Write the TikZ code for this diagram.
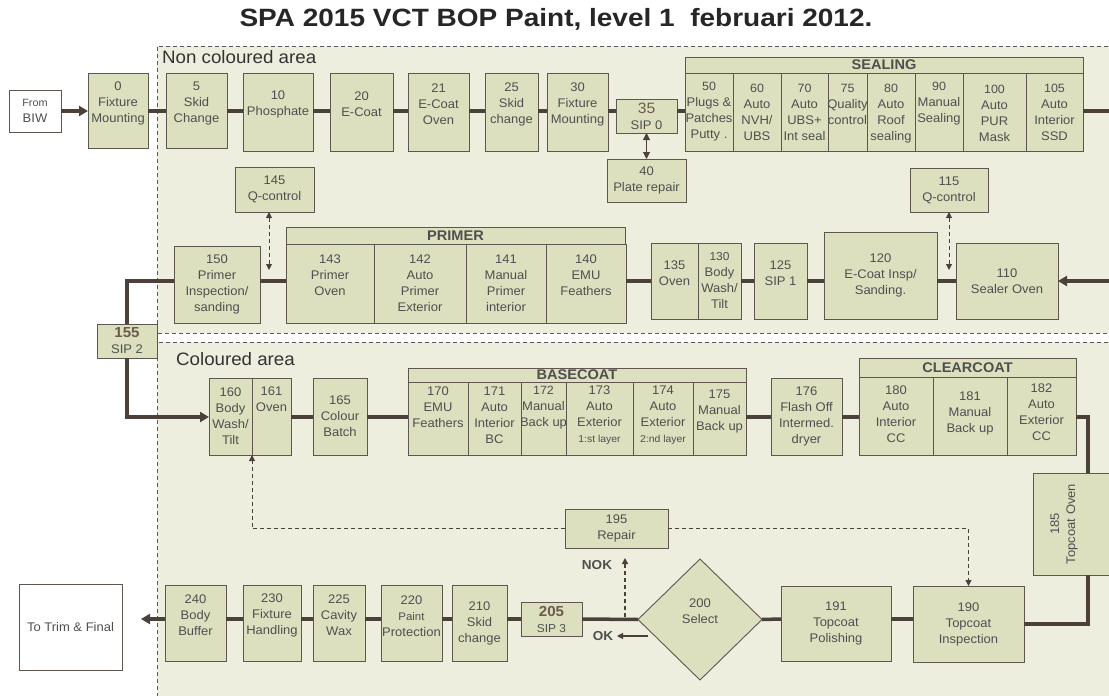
\documentclass[tikz,border=0pt]{standalone}
\usepackage{fontspec}
\setmainfont{Liberation Sans}[FakeStretch=1.04]
\newfontfamily\titlefont{Liberation Sans}[FakeStretch=1.12]
\usetikzlibrary{arrows.meta,shapes.geometric}
\definecolor{areacol}{HTML}{EEEEDF}
\definecolor{boxfill}{HTML}{DDE0BF}
\definecolor{boxline}{HTML}{5E564F}
\definecolor{conncol}{HTML}{4B403A}
\definecolor{txtcol}{HTML}{4F4F4F}
\definecolor{sipcol}{HTML}{6B5B4F}
\tikzset{
  box/.style={draw=boxline, fill=boxfill, line width=0.9pt, inner sep=0pt, outer sep=0pt},
  lbl/.style={align=center, text=txtcol, inner sep=0pt, font=\fontsize{12.5}{16}\selectfont},
  hdr/.style={font=\bfseries\fontsize{14}{16}\selectfont, text=txtcol},
  conn/.style={draw=conncol, line width=3.5pt},
  arr/.style={-{Triangle[length=9pt,width=10pt]}},
  qdash/.style={draw=conncol, line width=1pt, dash pattern=on 4pt off 3pt},
  qtip/.style={-{Triangle[length=6pt,width=6pt]}},
  qtips/.style={{Triangle[length=6pt,width=6pt]}-{Triangle[length=6pt,width=6pt]}},
  areadash/.style={draw=black!65, line width=0.8pt, dash pattern=on 4pt off 3pt},
}
\newcommand\sealf{\fontsize{12}{15}\selectfont}
\newcommand\sipnum[1]{{\bfseries\fontsize{14.5}{15}\selectfont\color{sipcol}#1}}
% \bx[box opts]{name}{x1}{y1}{x2}{y2}{text dy}{text}
\newcommand\bx[8][]{%
  \pgfmathsetmacro\Bxw{#5-#3}\pgfmathsetmacro\Bxh{#6-#4}%
  \pgfmathsetmacro\Bxcx{(#3+#5)/2}\pgfmathsetmacro\Bxcy{(#4+#6)/2}%
  \node[box,#1,minimum width=\Bxw pt,minimum height=\Bxh pt] (#2) at (\Bxcx,\Bxcy) {};%
  \node[lbl] at (\Bxcx,{\Bxcy+(#7)}) {#8};}
\newcommand\hd[6]{%
  \pgfmathsetmacro\Bxw{#4-#2}\pgfmathsetmacro\Bxh{#5-#3}%
  \pgfmathsetmacro\Bxcx{(#2+#4)/2}\pgfmathsetmacro\Bxcy{(#3+#5)/2}%
  \node[box,hdr,minimum width=\Bxw pt,minimum height=\Bxh pt] (#1) at (\Bxcx,\Bxcy) {#6};}
\begin{document}
\begin{tikzpicture}[x=1pt,y=-1pt]
\useasboundingbox (0,0) rectangle (1109,696);
\clip (0,0) rectangle (1109,696);
\fill[white] (0,0) rectangle (1109,696);
% areas
\fill[areacol] (157,46) rectangle (1115,333);
\fill[areacol] (157,342) rectangle (1115,700);
\draw[areadash] (1115,46) -- (157,46) -- (157,333) -- (1115,333);
\draw[areadash] (1115,342) -- (157,342) -- (157,700);
\node[font=\titlefont\bfseries\fontsize{25}{28}\selectfont, text=black!85] (title) at (556,19) {SPA 2015 VCT BOP Paint, level 1\ \ februari 2012.};
\node[anchor=west, font=\fontsize{18}{20}\selectfont, text=black!80, inner sep=0pt] (ncarea) at (162,57) {Non coloured area};
\node[anchor=west, font=\fontsize{18}{20}\selectfont, text=black!80, inner sep=0pt] (carea) at (176,359) {Coloured area};
% guide coordinates
\coordinate (r1) at (0,111);
\coordinate (r2) at (0,281);
\coordinate (r3) at (0,417);
\coordinate (r4) at (0,619);
\coordinate (e1) at (1112,111);
\coordinate (e2) at (1112,281);
\coordinate (q1) at (0,270);
\coordinate (qx1) at (269,0);
\coordinate (v185) at (1088,0);
% row 1
\bx[fill=white]{biw}{9}{90}{61}{132}{0}{\fontsize{10.5}{14}\selectfont From\\BIW}
\bx{b0}{88}{73}{148}{148}{-7}{0\\Fixture\\Mounting}
\bx{b5}{166}{73}{227}{148}{-7}{5\\Skid\\Change}
\bx{b10}{243}{73}{313}{151}{-8}{10\\Phosphate}
\bx{b20}{330}{73}{393}{151}{-8}{20\\E-Coat}
\bx{b21}{408}{73}{469}{151}{-8}{21\\E-Coat\\Oven}
\bx{b25}{485}{73}{538}{151}{-8}{25\\Skid\\change}
\bx{b30}{547}{73}{608}{151}{-8}{30\\Fixture\\Mounting}
\bx{b35}{616}{99}{677}{133}{0}{{\fontsize{15}{16}\selectfont\color{sipcol}35}\\SIP 0}
\bx{b40}{607}{159}{686}{202}{0}{40\\Plate repair}
\hd{sealing}{685}{57}{1083}{73}{SEALING}
\bx{s50}{685}{73}{733}{151}{0}{\sealf 50\\Plugs \&\\Patches\\Putty .}
\bx{s60}{733}{73}{781}{151}{0}{\sealf 60\\Auto\\NVH/\\UBS}
\bx{s70}{781}{73}{828}{151}{0}{\sealf 70\\Auto\\UBS+\\Int seal}
\bx{s75}{828}{73}{867}{151}{-8}{\sealf 75\\Quality\\control}
\bx{s80}{867}{73}{915}{151}{2}{\sealf 80\\Auto\\Roof\\sealing}
\bx{s90}{915}{73}{963}{151}{-8}{\sealf 90\\Manual\\Sealing}
\bx{s100}{963}{73}{1026}{151}{1}{\sealf 100\\Auto\\PUR\\Mask}
\bx{s105}{1026}{73}{1083}{151}{0}{\sealf 105\\Auto\\Interior\\SSD}
% row 2
\bx{b145}{235}{167}{314}{212}{0}{145\\Q-control}
\bx{b150}{174}{246}{260}{323}{0}{150\\Primer\\Inspection/\\sanding}
\hd{primer}{286}{227}{625}{244}{PRIMER}
\bx{p143}{286}{244}{374}{323}{-8}{143\\Primer\\Oven}
\bx{p142}{374}{244}{466}{323}{0}{142\\Auto\\Primer\\Exterior}
\bx{p141}{466}{244}{546}{323}{0}{141\\Manual\\Primer\\interior}
\bx{p140}{546}{244}{626}{323}{-8}{140\\EMU\\Feathers}
\bx{b135}{651}{243}{698}{319}{-8}{135\\Oven}
\bx{b130}{698}{243}{741}{319}{0}{\fontsize{11.5}{15}\selectfont 130\\Body\\Wash/\\Tilt}
\bx{b125}{754}{243}{807}{319}{-8}{125\\SIP 1}
\bx{b120}{824}{232}{937}{319}{0}{120\\E-Coat Insp/\\Sanding.}
\bx{b115}{910}{168}{988}{212}{0}{115\\Q-control}
\bx{b110}{956}{243}{1058}{319}{0}{110\\Sealer Oven}
\bx{b155}{97}{324}{157}{358}{0}{\sipnum{155}\\SIP 2}
% row 3
\bx{b160}{209}{378}{252}{455}{0}{160\\Body\\Wash/\\Tilt}
\bx{b161}{252}{378}{291}{455}{-17}{161\\Oven}
\bx{b165}{313}{378}{367}{455}{0}{165\\Colour\\Batch}
\hd{basecoat}{408}{368}{746}{382}{BASECOAT}
\bx{c170}{408}{382}{468}{455}{-11}{170\\EMU\\Feathers}
\bx{c171}{468}{382}{521}{455}{-3}{171\\Auto\\Interior\\BC}
\bx{c172}{521}{382}{566}{455}{-11}{\fontsize{12}{16}\selectfont 172\\Manual\\Back up}
\bx{c173}{566}{382}{633}{455}{-3}{173\\Auto\\Exterior\\{\fontsize{10}{12}\selectfont 1:st layer}}
\bx{c174}{633}{382}{693}{455}{-3}{174\\Auto\\Exterior\\{\fontsize{10}{12}\selectfont 2:nd layer}}
\bx{c175}{693}{382}{746}{455}{-7}{175\\Manual\\Back up}
\bx{b176}{771}{378}{842}{455}{0}{176\\Flash Off\\Intermed.\\dryer}
\hd{clearcoat}{859}{358}{1076}{377}{CLEARCOAT}
\bx{c180}{859}{377}{933}{455}{-2}{180\\Auto\\Interior\\CC}
\bx{c181}{933}{377}{1007}{455}{-3}{181\\Manual\\Back up}
\bx{c182}{1007}{377}{1076}{455}{-4}{182\\Auto\\Exterior\\CC}
\node[box,minimum width=79pt,minimum height=102pt] (b185) at (1072.5,524) {};
\node[lbl,rotate=90] at (1064,524) {185\\Topcoat Oven};
% row 4
\bx{b195}{565}{509}{668}{548}{0}{195\\Repair}
\bx{b190}{913}{586}{1024}{662}{0}{190\\Topcoat\\Inspection}
\bx{b191}{781}{586}{891}{661}{0}{191\\Topcoat\\Polishing}
\node[box,diamond,minimum width=124pt,minimum height=121pt] (d200) at (700,619.5) {};
\node[lbl] at (700,611.5) {200\\Select};
\bx{b205}{521}{602}{582}{636}{0}{\sipnum{205}\\\fontsize{11.5}{15}\selectfont SIP 3}
\bx{b210}{452}{585}{507}{661}{0}{210\\Skid\\change}
\bx{b220}{381}{585}{442}{661}{-7}{220\\\fontsize{11}{15}\selectfont Paint\\Protection}
\bx{b225}{313}{585}{365}{661}{-8}{225\\Cavity\\Wax}
\bx{b230}{243}{585}{301}{661}{-8}{230\\Fixture\\Handling}
\bx{b240}{165}{585}{226}{661}{-8}{240\\Body\\Buffer}
\bx[fill=white]{trim}{19}{584}{122}{670}{0}{To Trim \& Final}
% connectors row 1
\draw[conn,arr] (biw.east) -- (b0.west|-biw.east);
\draw[conn] (b0.east|-r1) -- (b5.west|-r1);
\draw[conn] (b5.east|-r1) -- (b10.west|-r1);
\draw[conn] (b10.east|-r1) -- (b20.west|-r1);
\draw[conn] (b20.east|-r1) -- (b21.west|-r1);
\draw[conn] (b21.east|-r1) -- (b25.west|-r1);
\draw[conn] (b25.east|-r1) -- (b30.west|-r1);
\draw[conn] (b30.east|-r1) -- (b35.west|-r1);
\draw[conn] (b35.east|-r1) -- (s50.west|-r1);
\draw[conn] (s105.east|-r1) -- (e1);
\draw[draw=conncol, line width=1pt, {Triangle[length=7pt,width=7pt]}-{Triangle[length=7pt,width=7pt]}] (b35.south) -- (b40.north);
% connectors row 2
\draw[conn,arr] (e2) -- (b110.east|-r2);
\draw[conn] (b110.west|-r2) -- (b120.east|-r2);
\draw[conn] (b120.west|-r2) -- (b125.east|-r2);
\draw[conn] (b125.west|-r2) -- (b130.east|-r2);
\draw[conn] (b135.west|-r2) -- (p140.east|-r2);
\draw[conn] (p143.west|-r2) -- (b150.east|-r2);
\draw[conn] (b150.west|-r2) -| (b155.north);
\draw[qdash,qtips] (b145.south-|qx1) -- (q1-|qx1);
\draw[qdash,qtips] (b115.south) -- (b115.south|-q1);
% connectors row 3
\draw[conn,arr] (b155.south) |- (b160.west|-r3);
\draw[conn] (b161.east|-r3) -- (b165.west|-r3);
\draw[conn] (b165.east|-r3) -- (c170.west|-r3);
\draw[conn] (c175.east|-r3) -- (b176.west|-r3);
\draw[conn] (b176.east|-r3) -- (c180.west|-r3);
\draw[conn] (c182.east|-r3) -| (b185.north-|v185);
\draw[conn] (b185.south-|v185) |- (b190.east);
% connectors row 4
\draw[conn] (b190.west|-r4) -- (b191.east|-r4);
\draw[conn] (b191.west|-r4) -- (d200.east);
\draw[conn] (d200.west) -- (b205.east|-r4);
\draw[conn] (b205.west|-r4) -- (b210.east|-r4);
\draw[conn] (b210.west|-r4) -- (b220.east|-r4);
\draw[conn] (b220.west|-r4) -- (b225.east|-r4);
\draw[conn] (b225.west|-r4) -- (b230.east|-r4);
\draw[conn] (b230.west|-r4) -- (b240.east|-r4);
\draw[conn,arr,shorten >=19pt] (b240.west|-r4) -- (trim.east|-r4);
% repair loop
\draw[qdash,qtip] (b195.west) -| (b160.south east);
\draw[qdash,qtip] (b195.east) -| (b190.north);
\coordinate (nokA) at (625,617);
\coordinate (nokB) at (625,558);
\draw[qdash,line width=1.3pt,qtip] (nokA) -- (nokB);
\node[font=\bfseries\fontsize{13}{15}\selectfont, text=txtcol] (nok) at (597,565) {NOK};
\coordinate (okA) at (648,636);
\coordinate (okB) at (617,636);
\draw[draw=conncol, line width=1.2pt, qtip] (okA) -- (okB);
\node[font=\bfseries\fontsize{13}{15}\selectfont, text=txtcol] (ok) at (603,636) {OK};
\end{tikzpicture}
\end{document}
